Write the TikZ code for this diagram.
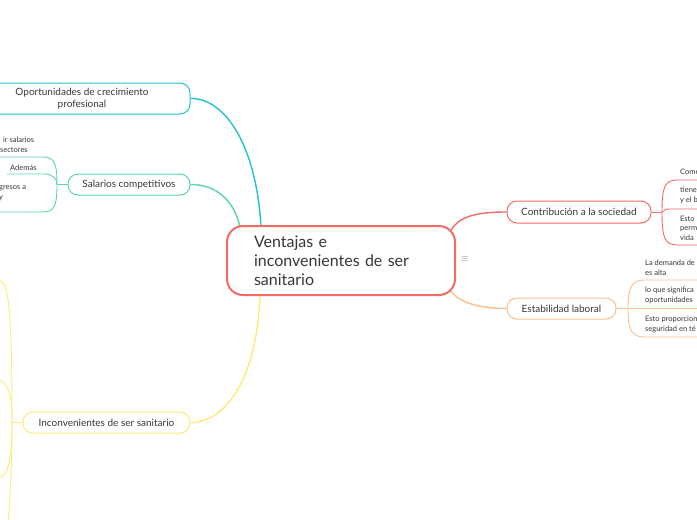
\documentclass[tikz,border=0pt]{standalone}
\usepackage{fontspec}
\setmainfont{Lato}
\definecolor{mred}{RGB}{242,107,103}
\definecolor{mcyan}{RGB}{32,196,206}
\definecolor{mgreen}{RGB}{88,216,168}
\definecolor{morange}{RGB}{253,190,140}
\definecolor{myellow}{RGB}{250,236,120}
\definecolor{mtext}{RGB}{55,55,55}
\begin{document}
\begin{tikzpicture}[x=1pt,y=-1pt,
  mainbox/.style={draw=mred,line width=2pt,rounded corners=16pt,fill=white,text=mtext,
    minimum width=228pt,minimum height=69pt,text width=174pt,inner xsep=27pt,inner ysep=3pt,
    align=left,font=\fontsize{16}{19}\selectfont},
  topic/.style={line width=1pt,rounded corners=10pt,fill=white,text=mtext,inner sep=0pt,
    align=center,font=\fontsize{10}{11.5}\selectfont},
  conn/.style={line width=1.4pt},
  sub/.style={line width=0.9pt},
  small/.style={text=mtext,inner sep=0pt,anchor=base west,align=left,font=\fontsize{7.5}{9.7}\selectfont}]
\useasboundingbox (0,0) rectangle (697,520);
\clip (0,0) rectangle (697,520);
\fill[white] (0,0) rectangle (697,520);

% connectors from centre
\coordinate (cTop) at (261,227);
\coordinate (cTL) at (240,227);
\coordinate (cBot) at (260,295);
\coordinate (cTR) at (450.5,231);
\coordinate (cBR) at (450.5,291);

\node[topic,draw=mcyan,minimum width=216pt,minimum height=31pt] (opp) at (82,98.5) {Oportunidades de crecimiento\\profesional};
\node[topic,draw=mgreen,minimum width=122pt,minimum height=21pt] (sal) at (129,184.5) {Salarios competitivos};
\node[topic,draw=myellow,minimum width=167pt,minimum height=21pt] (inc) at (106.5,422.5) {Inconvenientes de ser sanitario};
\node[topic,draw=mred,minimum width=144pt,minimum height=22pt] (con) at (579,212) {Contribución a la sociedad};
\node[topic,draw=morange,minimum width=109pt,minimum height=21pt] (est) at (561.5,308.5) {Estabilidad laboral};

\draw[conn,mcyan] (opp.east) .. controls (222,97.5) and (256,140) .. (cTop);
\draw[conn,mgreen] (sal.east) .. controls (216,184.5) and (234,200) .. (cTL);
\draw[conn,myellow] (inc.east) .. controls (225,422.5) and (257,380) .. (cBot);
\draw[conn,mred] (cTR) .. controls (458,218) and (472,212) .. (con.west);
\draw[conn,morange] (cBR) .. controls (460,303) and (480,308.5) .. (est.west);

\node[mainbox] (center) at (341,260.5) {Ventajas e\\inconvenientes de ser\\sanitario};
\node[text=gray,inner sep=0pt] (menu) at (465,259) {$\equiv$};

% Salarios children
\coordinate (sj) at (57,184.5);
\draw[sub,mgreen] (sal.west) -- (sj);
\draw[sub,mgreen] (sj) .. controls (57,162) and (54,157) .. (42,157) -- (-5,157);
\draw[sub,mgreen] (sj) .. controls (57,178) and (52,174) .. (44,174) -- (7,174);
\draw[sub,mgreen] (sj) .. controls (57,207) and (54,212) .. (42,212) -- (-5,212);
\node[small] (s1) at (0,152.5) {\hspace*{3pt}ir salarios\\sectores};
\node[small] (s2) at (10,170.5) {Además};
\node[small] (s3) at (-1,199.5) {gresos a\\y};

% Contribucion children
\coordinate (cj) at (662,212);
\draw[sub,mred] (con.east) -- (cj);
\draw[sub,mred] (cj) .. controls (662,186) and (665,180) .. (678,180) -- (700,180);
\draw[sub,mred] (cj) .. controls (665,209) .. (675,209) -- (700,209);
\draw[sub,mred] (cj) .. controls (662,239) and (665,245) .. (678,245) -- (700,245);
\node[small] (r1) at (680,174.5) {Come};
\node[small] (r2) at (680,202.2) {tiene\\y el b};
\node[small] (r3) at (680,240.4) {Esto\\perm\\vida};

% Estabilidad children
\coordinate (ej) at (628,308.5);
\draw[sub,morange] (est.east) -- (ej) -- (700,308.5);
\draw[sub,morange] (ej) .. controls (628,286) and (632,280) .. (645,280) -- (700,280);
\draw[sub,morange] (ej) .. controls (628,331) and (632,337) .. (645,337) -- (700,337);
\node[small] (e1) at (645,275.2) {La demanda de\\es alta};
\node[small] (e2) at (645,302.2) {lo que significa\\oportunidades};
\node[small] (e3) at (645,331) {Esto proporcion\\seguridad en té};

% Inconvenientes children
\coordinate (ij) at (12,422.5);
\draw[sub,myellow] (inc.west) -- (ij);
\draw[sub,myellow] (ij) .. controls (12,300) and (8,282) .. (-1,280);
\draw[sub,myellow] (ij) .. controls (12,480) and (9,510) .. (8,522);
\draw[sub,myellow] (ij) .. controls (12,392) and (8,382) .. (-2,380);
\draw[sub,myellow] (ij) .. controls (12,463) and (8,476) .. (-2,478);
\end{tikzpicture}
\end{document}
